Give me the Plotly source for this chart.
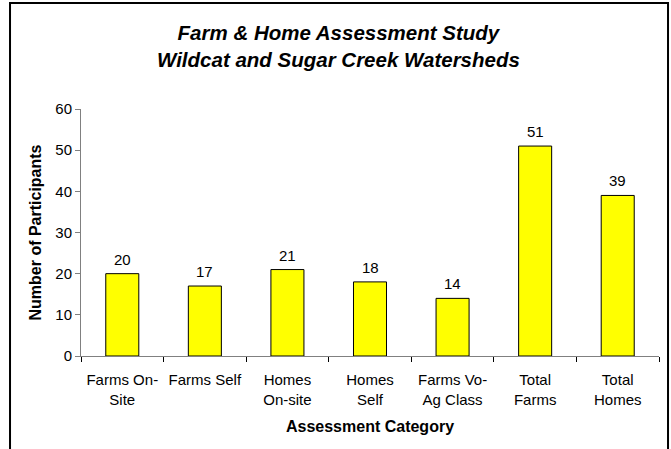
import plotly.graph_objects as go

categories = ["Farms On-<br>Site", "Farms Self", "Homes<br>On-site", "Homes<br>Self",
              "Farms Vo-<br>Ag Class", "Total<br>Farms", "Total<br>Homes"]
participants = [20, 17, 21, 18, 14, 51, 39]
y_ticks = [0, 10, 20, 30, 40, 50, 60]

FONT = "Liberation Sans, Arial, sans-serif"

fig = go.Figure()
fig.add_trace(go.Bar(
    x=categories,
    y=participants,
    width=0.4,
    marker=dict(color="#FFFF00", line=dict(color="#000000", width=1)),
    hoverinfo="x+y",
))

# data labels above bars
for c, v in zip(categories, participants):
    fig.add_annotation(x=c, y=v, xref="x", yref="y", text=str(v),
                       showarrow=False, yanchor="bottom", yshift=4,
                       font=dict(family=FONT, size=15, color="#000000"))

fig.update_layout(
    width=671, height=449,
    margin=dict(l=81, r=12, t=109, b=93),
    paper_bgcolor="white",
    plot_bgcolor="white",
    showlegend=False,
    bargap=0.6,
)

# chart title
fig.add_annotation(
    xref="paper", yref="paper", x=0.446, y=1.257, xanchor="center", yanchor="middle",
    text="<b><i>Farm & Home Assessment Study<br>Wildcat and Sugar Creek Watersheds</i></b>",
    showarrow=False, align="center",
    font=dict(family=FONT, size=20.5, color="#000000"),
)

fig.update_xaxes(
    type="category",
    tickson="boundaries",
    ticks="outside", ticklen=5, tickcolor="#000000", tickwidth=1,
    ticklabelstandoff=10,
    showline=True, linecolor="#808080", linewidth=1,
    showgrid=False, automargin=False,
    tickfont=dict(family=FONT, size=15, color="#000000"),
    title=dict(text="<b>Assessment Category</b>", font=dict(family=FONT, size=16, color="#000000"), standoff=14),
)
fig.update_yaxes(
    range=[0, 60],
    tickvals=y_ticks,
    ticks="outside", ticklen=5, tickcolor="#808080", tickwidth=1,
    showline=True, linecolor="#808080", linewidth=1,
    showgrid=False, zeroline=False, automargin=False,
    tickfont=dict(family=FONT, size=15, color="#000000"),
    title=dict(text="<b>Number of Participants</b>", font=dict(family=FONT, size=16, color="#000000"), standoff=9),
)

# outer chart frame
fig.add_shape(type="rect", xref="paper", yref="paper",
              x0=-0.1228, x1=1.0156, y0=-0.45, y1=1.429,
              line=dict(color="#000000", width=2), fillcolor="rgba(0,0,0,0)", layer="above")

fig.write_html("out.html", config={"displayModeBar": False},
               post_script="document.body.style.margin='0px';")
